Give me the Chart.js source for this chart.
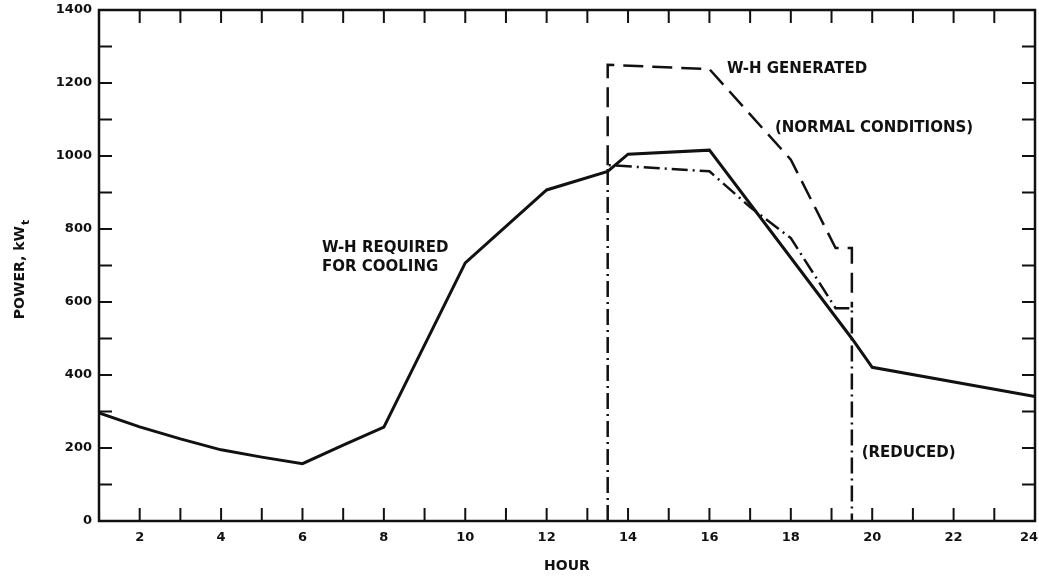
<!DOCTYPE html>
<html lang="en">
<head>
  <meta charset="UTF-8">
  <title>W-H Power vs Hour</title>
  <script src="https://cdn.jsdelivr.net/npm/chart.js"></script>
  <style>
    html, body { margin: 0; padding: 0; background: #fff; }
    #wrap { width: 1039px; height: 578px; }
  </style>
</head>
<body>
  <div id="wrap"><canvas id="powerChart" width="1039" height="578"></canvas></div>

  <script>
    // hours and values
    const coolingHours = [1, 2, 3, 4, 5, 6, 7, 8, 10, 12, 13.5, 14, 16, 19.5, 20, 24];
    const coolingPower = [296, 258, 225, 195, 175, 157, 208, 257, 707, 907, 958, 1005, 1016, 500, 421, 341];

    const generatedHours = [13.5, 13.5, 16, 18, 19.1, 19.5, 19.5];
    const generatedPower = [975, 1250, 1238, 990, 748, 748, 585];

    const reducedHours = [13.5, 13.5, 16, 17, 18, 19.1, 19.5, 19.5];
    const reducedPower = [0, 975, 958, 860, 775, 583, 583, 0];

    const hourLabels = [2, 4, 6, 8, 10, 12, 14, 16, 18, 20, 22, 24];

    const fam = "'DejaVu Sans', sans-serif";
    const notes = [
      { text: 'W-H GENERATED', x: 16.43, y: 1238 },
      { text: '(NORMAL CONDITIONS)', x: 17.61, y: 1077 },
      { text: '(REDUCED)', x: 19.74, y: 186 },
      { text: 'W-H REQUIRED', x: 6.48, y: 748 },
      { text: 'FOR COOLING', x: 6.48, y: 696 }
    ];

    const pts = (xs, ys) => xs.map((h, i) => ({ x: h, y: ys[i] }));

    // frame, inward ticks on all four sides, hour labels, notes and axis titles
    const frame = {
      id: 'frame',
      afterDatasetsDraw(chart) {
        const { ctx, chartArea: a, scales: { x, y } } = chart;
        const len = 13;
        ctx.save();
        ctx.strokeStyle = '#111';
        ctx.lineWidth = 2.5;
        ctx.strokeRect(a.left, a.top, a.right - a.left, a.bottom - a.top);
        ctx.lineWidth = 2;
        ctx.beginPath();
        for (let h = 2; h <= 23; h++) {
          const px = x.getPixelForValue(h);
          ctx.moveTo(px, a.bottom); ctx.lineTo(px, a.bottom - len);
          ctx.moveTo(px, a.top); ctx.lineTo(px, a.top + len);
        }
        for (let v = 100; v <= 1300; v += 100) {
          const py = y.getPixelForValue(v);
          ctx.moveTo(a.left, py); ctx.lineTo(a.left + len, py);
          ctx.moveTo(a.right, py); ctx.lineTo(a.right - len, py);
        }
        ctx.stroke();

        ctx.fillStyle = '#111';
        ctx.textBaseline = 'middle';

        // hour labels (last one pulled in so it fits)
        ctx.font = 'bold 13px ' + fam;
        ctx.textAlign = 'center';
        hourLabels.forEach(h => {
          let px = x.getPixelForValue(h);
          const w = ctx.measureText(String(h)).width;
          if (px + w / 2 > chart.width - 1) px = chart.width - 1 - w / 2;
          ctx.fillText(String(h), px, a.bottom + 17);
        });

        ctx.font = 'bold 15px ' + fam;
        ctx.textAlign = 'left';
        notes.forEach(n => ctx.fillText(n.text, x.getPixelForValue(n.x), y.getPixelForValue(n.y)));

        // x title
        ctx.textAlign = 'center';
        ctx.font = 'bold 14px ' + fam;
        ctx.fillText('HOUR', (a.left + a.right) / 2, 566);

        // y title with subscript t
        ctx.translate(20, 270);
        ctx.rotate(-Math.PI / 2);
        const main = 'POWER, kW';
        ctx.font = 'bold 14px ' + fam;
        const w1 = ctx.measureText(main).width;
        ctx.font = 'bold 11px ' + fam;
        const w2 = ctx.measureText('t').width;
        ctx.textAlign = 'left';
        ctx.font = 'bold 14px ' + fam;
        ctx.fillText(main, -(w1 + w2) / 2, 0);
        ctx.font = 'bold 11px ' + fam;
        ctx.fillText('t', -(w1 + w2) / 2 + w1 + 1, 6);
        ctx.restore();
      }
    };

    const ctx = document.getElementById('powerChart').getContext('2d');
    new Chart(ctx, {
      type: 'line',
      data: {
        datasets: [
          {
            label: 'W-H required for cooling',
            data: pts(coolingHours, coolingPower),
            borderColor: '#111',
            borderWidth: 3,
            pointRadius: 0,
            tension: 0
          },
          {
            label: 'W-H generated (normal conditions)',
            data: pts(generatedHours, generatedPower),
            borderColor: '#111',
            borderWidth: 2.5,
            borderDash: [20, 9],
            pointRadius: 0,
            tension: 0
          },
          {
            label: 'W-H generated (reduced)',
            data: pts(reducedHours, reducedPower),
            borderColor: '#111',
            borderWidth: 2.5,
            borderDash: [16, 5, 2, 5],
            pointRadius: 0,
            tension: 0
          }
        ]
      },
      options: {
        responsive: false,
        animation: false,
        layout: { padding: { top: 10, right: 4, left: 0, bottom: 0 } },
        plugins: { legend: { display: false }, tooltip: { enabled: false } },
        scales: {
          x: {
            type: 'linear',
            min: 1,
            max: 24,
            grid: { display: false, drawTicks: false },
            border: { display: false },
            afterFit(s) { s.height = 57; s.paddingLeft = 0; s.paddingRight = 0; },
            ticks: { display: false, stepSize: 1 }
          },
          y: {
            min: 0,
            max: 1400,
            grid: { display: false, drawTicks: false },
            border: { display: false },
            afterFit(s) { s.width = 99; s.paddingTop = 0; s.paddingBottom = 0; },
            ticks: {
              stepSize: 100,
              autoSkip: false,
              padding: 7,
              color: '#111',
              font: { family: fam, size: 13, weight: 'bold' },
              callback: v => (v % 200 === 0 ? v : '')
            }
          }
        }
      },
      plugins: [frame]
    });
  </script>
</body>
</html>
